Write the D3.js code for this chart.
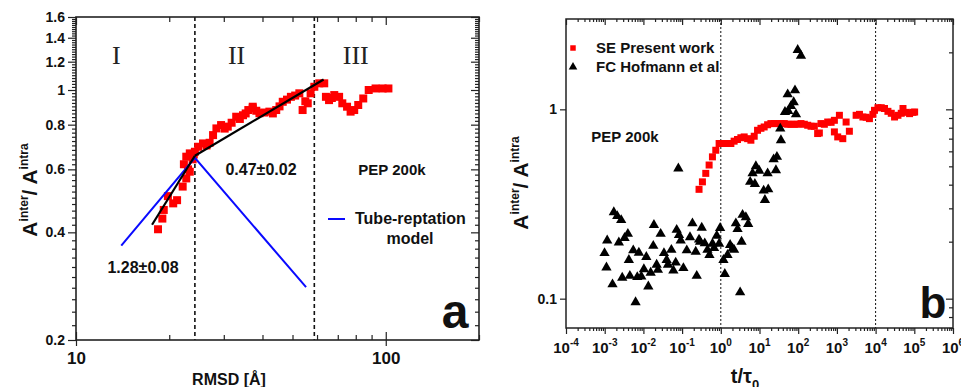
<!DOCTYPE html>
<html lang="en">
<head>
<meta charset="UTF-8">
<title>PEP 200k inter/intra ratio</title>
<script src="https://d3js.org/d3.v7.min.js"></script>
<style>
body{margin:0;background:#fff}
svg{display:block}
text{font-family:Arial,"Liberation Sans",sans-serif}
</style>
</head>
<body>
<script>
// ---------- panel a : ratio vs RMSD ----------
var rmsd = [18.4,19.0,19.2,19.8,20.6,21.2,22.1,22.7,23.3,22.7,23.3,24.2,24.8,25.7,26.4,27.0,27.7,28.4,29.4,30.2,30.9,31.8,32.9,33.8,34.6,35.3,36.0,37.2,37.2,38.2,39.1,40.5,42.1,43.2,44.3,45.4,46.5,48,49.4,51,52.6,53.9,55,56.0,57.2,58.8,61.0,63.3,64.1,65.6,67,68.2,70.7,72.4,75.0,77,79.1,81.5,84.6,88.1,92.7,97.7,102,22.3,23.8,23.0,24.0];
var ratioA = [0.408,0.437,0.462,0.505,0.482,0.492,0.537,0.566,0.591,0.651,0.665,0.672,0.694,0.709,0.70,0.712,0.748,0.781,0.798,0.78,0.79,0.81,0.842,0.83,0.85,0.86,0.879,0.898,0.889,0.875,0.861,0.865,0.87,0.86,0.879,0.9,0.927,0.94,0.957,0.965,0.979,0.879,0.93,0.918,0.979,1.021,1.044,1.044,0.957,0.937,0.95,0.968,0.957,0.918,0.898,0.87,0.879,0.908,0.947,1.0,1.01,1.01,1.01,0.62,0.64,0.60,0.66];
var fitLow = [[17.6,0.42],[24.2,0.655]];
var fitHigh = [[24.2,0.655],[63,1.07]];
var tubeModel = [[14,0.367],[24.2,0.646],[55.3,0.281]];
var regionBounds = [24.2,58.8];
var regionNames = [["I",13.5],["II",33],["III",80]];
var yTicksA = [0.2,0.4,0.6,0.8,1,1.2,1.4,1.6];
var xTicksA = [10,100];

// ---------- panel b : ratio vs t/tau0 ----------
var seTime = [0.274,0.335,0.409,0.499,0.608,0.742,0.905,1.03,1.22,1.49,1.82,2.21,2.70,3.3,4.02,4.92,5.99,7.3,8.9,10.9,13.2,16.2,19.7,24,29.4,35.8,43.7,53.4,65,79.4,97,118,144,176,215,261,318,352,388,474,578,708,861,861,1050,1160,1420,1730,2100,3140,3830,4690,5710,6930,8510,9350,11500,14000,17000,20800,25400,30900,37800,46000,51000,62100,75500,92400,102000];
var seRatio = [0.378,0.414,0.459,0.508,0.561,0.608,0.66,0.66,0.66,0.66,0.66,0.679,0.693,0.708,0.715,0.70,0.687,0.721,0.775,0.794,0.807,0.829,0.841,0.841,0.841,0.841,0.841,0.834,0.834,0.834,0.834,0.841,0.834,0.824,0.814,0.814,0.745,0.75,0.841,0.834,0.857,0.854,0.875,0.76,0.715,0.93,0.70,0.857,0.766,0.93,0.941,0.911,0.908,0.893,0.941,0.988,1.02,1.02,1.01,0.976,0.953,0.911,0.93,0.953,1.01,0.964,0.949,0.964,0.968];
var fcTime = [1.72e-3,2.11e-3,2.67e-3,1.16e-3,9.9e-4,1.11e-3,1.59e-3,2.84e-3,2.32e-3,3.26e-3,3.97e-3,5.47e-3,7.64e-3,4.21e-3,4.47e-3,6.95e-3,8.83e-3,6.28e-3,1.03e-2,1.19e-2,1.54e-2,1.87e-2,1.80e-2,2.2e-2,2.79e-2,3.4e-2,2.37e-2,3.99e-2,5.28e-2,4.31e-2,6.83e-2,5.95e-2,1.34e-2,7.25e-2,8.31e-2,9.2e-2,0.108,0.132,0.16,0.185,0.225,0.239,0.291,0.322,0.385,0.452,0.509,0.61,0.67,0.787,0.96,0.904,1.17,1.27,1.74,2.21,2.45,2.71,1.49,0.274,3.16,2.01,3.44,3.65,4.44,5.1,8.07,6.62,9.82,5.74,7.6,16.2,12.8,16.8,13.8,23.2,28.2,26.6,35.8,34.4,53.5,82.6,45.5,65,76.4,87.7,55.4,97,118,0.08];
var fcRatio = [0.286,0.273,0.260,0.203,0.174,0.146,0.119,0.129,0.198,0.209,0.22,0.18,0.175,0.16,0.132,0.13,0.131,0.0957,0.143,0.166,0.137,0.245,0.19,0.151,0.22,0.174,0.142,0.16,0.181,0.151,0.155,0.141,0.116,0.231,0.217,0.203,0.145,0.18,0.211,0.25,0.177,0.132,0.2,0.237,0.196,0.181,0.17,0.195,0.185,0.215,0.236,0.195,0.16,0.135,0.192,0.181,0.25,0.233,0.17,0.205,0.108,0.184,0.2,0.277,0.269,0.248,0.501,0.459,0.474,0.414,0.403,0.459,0.372,0.378,0.332,0.544,0.561,0.477,0.687,0.791,1.2,1.26,0.968,1.04,1.09,0.941,0.98,2.06,1.92,0.487];
var regionTimes = [1,1e4];
var yTicksB = [0.1,1];
var xDecadesB = d3.range(-4,7);

var width = 961, height = 387;
var svg = d3.select("body").append("svg")
    .attr("width", width)
    .attr("height", height)
    .style("background-color", "#fff");

function minorLog(lo, hi) {
    var out = [];
    for (var e = Math.floor(Math.log10(lo)); e <= Math.ceil(Math.log10(hi)); e++) {
        for (var m = 2; m < 10; m++) {
            var v = m * Math.pow(10, e);
            if (v >= lo * 0.999 && v <= hi * 1.001) out.push(v);
        }
    }
    return out;
}

function drawAxis(x, y, axis) {
    var g = svg.append("g").attr("transform", "translate(" + x + "," + y + ")").call(axis);
    g.select(".domain").remove();
    g.selectAll(".tick line").attr("stroke", "#222").attr("stroke-width", 1.2);
    g.selectAll("text").attr("fill", "#111").style("font-weight", "bold").style("font-family", "Arial,'Liberation Sans',sans-serif");
    return g;
}

// ================= panel a =================
var xA = d3.scaleLog().domain([10, 200]).range([76, 479]);
var yA = d3.scaleLog().domain([0.2, 1.6]).range([340, 17]);
var minorYA = d3.range(11, 81).map(function(i){ return i * 0.02; }).filter(function(v){ return yTicksA.every(function(t){ return Math.abs(t - v) > 1e-6; }); });
var minorXA = minorLog(10, 200).filter(function(v){ return v !== 100; });

var ml = drawAxis(76, 0, d3.axisLeft(yA).tickValues(yTicksA).tickSize(8).tickPadding(3).tickFormat(d3.format("~g")));
ml.selectAll("text").style("font-size", "14px");
drawAxis(76, 0, d3.axisLeft(yA).tickValues(minorYA).tickSize(4).tickFormat(""));
drawAxis(479, 0, d3.axisLeft(yA).tickValues(yTicksA).tickSize(8).tickFormat(""));
drawAxis(479, 0, d3.axisLeft(yA).tickValues(minorYA).tickSize(4).tickFormat(""));
var bl = drawAxis(0, 340, d3.axisBottom(xA).tickValues(xTicksA).tickSize(6).tickPadding(6).tickFormat(d3.format("d")));
bl.selectAll("text").style("font-size", "17px");
drawAxis(0, 340, d3.axisTop(xA).tickValues(xTicksA).tickSize(8).tickFormat(""));
drawAxis(0, 340, d3.axisTop(xA).tickValues(minorXA).tickSize(5).tickFormat(""));
drawAxis(0, 17, d3.axisBottom(xA).tickValues(xTicksA).tickSize(8).tickFormat(""));
drawAxis(0, 17, d3.axisBottom(xA).tickValues(minorXA).tickSize(5).tickFormat(""));

svg.append("g").selectAll("line").data(regionBounds).enter().append("line")
    .attr("x1", function(d){ return xA(d); }).attr("x2", function(d){ return xA(d); })
    .attr("y1", yA(1.6)).attr("y2", yA(0.2))
    .attr("stroke", "#111").attr("stroke-width", 1.6).attr("stroke-dasharray", "4,3");

svg.append("g").selectAll("path").data(d3.range(rmsd.length)).enter().append("path")
    .attr("d", d3.symbol().type(d3.symbolSquare).size(64))
    .attr("transform", function(i){ return "translate(" + xA(rmsd[i]) + "," + yA(ratioA[i]) + ")"; })
    .attr("fill", "#ff0000");

var lineA = d3.line().x(function(d){ return xA(d[0]); }).y(function(d){ return yA(d[1]); });
svg.append("path").attr("d", lineA(tubeModel)).attr("fill", "none").attr("stroke", "#0a0aff").attr("stroke-width", 2);
svg.append("path").attr("d", lineA(fitLow)).attr("fill", "none").attr("stroke", "#000").attr("stroke-width", 2.2);
svg.append("path").attr("d", lineA(fitHigh)).attr("fill", "none").attr("stroke", "#000").attr("stroke-width", 2.2);

svg.append("g").selectAll("text").data(regionNames).enter().append("text")
    .attr("x", function(d){ return xA(d[1]); }).attr("y", 64)
    .attr("text-anchor", "middle")
    .style("font-family", "'Liberation Serif','Times New Roman',serif").style("font-size", "26px").attr("fill", "#222")
    .text(function(d){ return d[0]; });

function label(x, y, txt, size, anchor) {
    return svg.append("text").attr("x", x).attr("y", y).attr("text-anchor", anchor || "middle")
        .style("font-size", size + "px").style("font-weight", "bold").attr("fill", "#111").text(txt);
}
label(143, 273, "1.28\u00b10.08", 16);
label(261, 175, "0.47\u00b10.02", 16);
label(392, 175, "PEP 200k", 15);
svg.append("line").attr("x1", 328).attr("x2", 345).attr("y1", 219).attr("y2", 219).attr("stroke", "#0a0aff").attr("stroke-width", 2);
label(355, 224, "Tube-reptation", 16, "start");
label(410, 244, "model", 16);
label(455, 328, "a", 48);
label(229, 385, "RMSD [\u00c5]", 16);

function ratioLabel(x, y) {
    var t = svg.append("text").attr("transform", "translate(" + x + "," + y + ") rotate(-90)")
        .attr("text-anchor", "middle").style("font-weight", "bold").attr("fill", "#111");
    t.append("tspan").style("font-size", "21px").text("A");
    t.append("tspan").style("font-size", "12px").attr("dy", -9).text("inter");
    t.append("tspan").style("font-size", "21px").attr("dy", 9).text("/ A");
    t.append("tspan").style("font-size", "12px").attr("dy", -9).text("intra");
}
ratioLabel(37, 190);

svg.append("rect").attr("x", 76).attr("y", 17).attr("width", 403).attr("height", 323)
    .attr("fill", "none").attr("stroke", "#222").attr("stroke-width", 1.6);

// ================= panel b =================
var xB = d3.scaleLog().domain([1e-4, 1e6]).range([566, 953]);
var yB = d3.scaleLog().domain([0.07, 3]).range([328, 19]);
var majorXB = xDecadesB.map(function(k){ return Math.pow(10, k); });
var minorXB = minorLog(1e-4, 1e6);
var minorYB = minorLog(0.07, 3);

var lb = drawAxis(566, 0, d3.axisLeft(yB).tickValues(yTicksB).tickSize(6).tickPadding(3).tickFormat(d3.format("~g")));
lb.selectAll("text").style("font-size", "14px");
drawAxis(953, 0, d3.axisLeft(yB).tickValues(yTicksB).tickSize(7).tickFormat(""));
drawAxis(953, 0, d3.axisLeft(yB).tickValues(minorYB).tickSize(4).tickFormat(""));
drawAxis(0, 328, d3.axisBottom(xB).tickValues(majorXB).tickSize(6).tickFormat(""));
drawAxis(0, 328, d3.axisBottom(xB).tickValues(minorXB).tickSize(3).tickFormat(""));
drawAxis(0, 19, d3.axisBottom(xB).tickValues(majorXB).tickSize(6).tickFormat(""));
drawAxis(0, 19, d3.axisBottom(xB).tickValues(minorXB).tickSize(3).tickFormat(""));

var xl = svg.append("g").selectAll("text").data(xDecadesB).enter().append("text")
    .attr("x", function(k){ return xB(Math.pow(10, k)); }).attr("y", 353)
    .attr("text-anchor", "middle").style("font-weight", "bold").attr("fill", "#111");
xl.append("tspan").style("font-size", "15px").text("10");
xl.append("tspan").style("font-size", "10px").attr("dy", -7).text(function(k){ return k; });

svg.append("g").selectAll("line").data(regionTimes).enter().append("line")
    .attr("x1", function(d){ return xB(d); }).attr("x2", function(d){ return xB(d); })
    .attr("y1", yB(3)).attr("y2", yB(0.07))
    .attr("stroke", "#111").attr("stroke-width", 1).attr("stroke-dasharray", "2,2");

svg.append("g").selectAll("path").data(d3.range(seTime.length)).enter().append("path")
    .attr("d", d3.symbol().type(d3.symbolSquare).size(49))
    .attr("transform", function(i){ return "translate(" + xB(seTime[i]) + "," + yB(seRatio[i]) + ")"; })
    .attr("fill", "#ff0000");

svg.append("g").selectAll("path").data(d3.range(fcTime.length)).enter().append("path")
    .attr("d", d3.symbol().type(d3.symbolTriangle).size(46))
    .attr("transform", function(i){ return "translate(" + xB(fcTime[i]) + "," + yB(fcRatio[i]) + ")"; })
    .attr("fill", "#000");

svg.append("path").attr("d", d3.symbol().type(d3.symbolSquare).size(30)).attr("transform", "translate(573,48)").attr("fill", "#ff0000");
svg.append("path").attr("d", d3.symbol().type(d3.symbolTriangle).size(32)).attr("transform", "translate(573,67)").attr("fill", "#000");
label(596, 53, "SE Present work", 15, "start");
label(596, 72, "FC Hofmann et al", 15, "start");
label(625, 142, "PEP 200k", 15);
label(933, 318, "b", 44);

var tl = svg.append("text").attr("x", 745).attr("y", 383).attr("text-anchor", "middle")
    .style("font-weight", "bold").attr("fill", "#111");
tl.append("tspan").style("font-size", "20px").text("t/\u03c4");
tl.append("tspan").style("font-size", "13px").attr("dy", 6).text("0");

ratioLabel(528, 183);

svg.append("rect").attr("x", 566).attr("y", 19).attr("width", 387).attr("height", 309)
    .attr("fill", "none").attr("stroke", "#222").attr("stroke-width", 1.5);
</script>
</body>
</html>
